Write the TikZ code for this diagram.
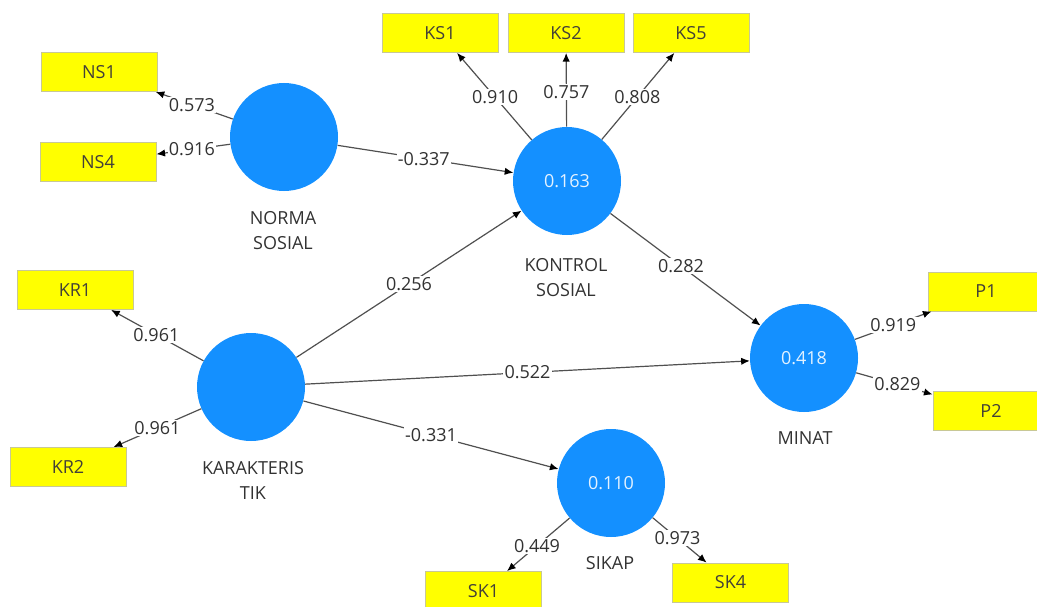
\documentclass[tikz,border=0pt]{standalone}
\usepackage{fontspec}
\setmainfont{Open Sans}
\usetikzlibrary{arrows.meta}
\definecolor{latent}{RGB}{20,144,255}
\definecolor{indyel}{RGB}{255,255,0}
\definecolor{indborder}{RGB}{200,200,150}
\definecolor{txt}{RGB}{50,50,50}
\definecolor{edge}{RGB}{80,80,80}
\begin{document}
\begin{tikzpicture}[x=0.75pt,y=-0.75pt,
  lv/.style={circle,fill=latent,draw=none,minimum size=81pt,inner sep=0pt,
    text=white!88!latent,font=\fontsize{13.5}{16}\selectfont},
  ind/.style={rectangle,fill=indyel,draw=indborder,line width=0.6pt,minimum width=87pt,minimum height=29.25pt,
    inner sep=0pt,text=black!85!yellow,font=\fontsize{13.5}{16}\selectfont},
  lvname/.style={align=center,text=txt,font=\fontsize{13.5}{18.75}\selectfont},
  conn/.style={draw=edge,line width=0.9pt,-{Latex[length=6.5pt,width=5.5pt,color=black]}},
  w/.style={fill=white,inner sep=1pt,text=txt,font=\fontsize{13.5}{16}\selectfont}]
\useasboundingbox (0,0) rectangle (1037,606);
\clip (0,0) rectangle (1037,606);
% latent variables
\node[lv] (ns) at (284,137) {};
\node[lv] (ks) at (567,181) {0.163};
\node[lv] (kr) at (251,387) {};
\node[lv] (sk) at (611,483) {0.110};
\node[lv] (mi) at (804,358) {0.418};
% names
\node[lvname] (nsl) at (283,231) {NORMA\\SOSIAL};
\node[lvname] (ksl) at (566,278) {KONTROL\\SOSIAL};
\node[lvname] (krl) at (253,480) {KARAKTERIS\\TIK};
\node[lvname] (skl) at (610,563) {SIKAP};
\node[lvname] (mil) at (805,438) {MINAT};
% indicators
\node[ind] (ns1) at (99,72) {NS1};
\node[ind] (ns4) at (98,162) {NS4};
\node[ind] (ks1) at (440,33) {KS1};
\node[ind] (ks2) at (566,33) {KS2};
\node[ind] (ks5) at (691,33) {KS5};
\node[ind] (kr1) at (75,290) {KR1};
\node[ind] (kr2) at (68,467) {KR2};
\node[ind] (sk1) at (483.5,591) {SK1};
\node[ind] (sk4) at (730.5,582.5) {SK4};
\node[ind] (p1) at (986,291.5) {P1};
\node[ind] (p2) at (991,411) {P2};
% outer loadings
\draw[conn] (ns) -- node[w,pos=0.53] {0.573} (ns1);
\draw[conn] (ns) -- node[w,pos=0.52] {0.916} (ns4);
\draw[conn] (ks) -- node[w,pos=0.49] {0.910} (ks1);
\draw[conn] (ks) -- node[w,pos=0.47] {0.757} (ks2);
\draw[conn] (ks) -- node[w,pos=0.49] {0.808} (ks5);
\draw[conn] (kr) -- node[w,pos=0.51] {0.961} (kr1);
\draw[conn] (kr) -- node[w,pos=0.5] {0.961} (kr2);
\draw[conn] (sk) -- node[w,pos=0.52] {0.449} (sk1);
\draw[conn] (sk) -- node[w,pos=0.46] {0.973} (sk4);
\draw[conn] (mi) -- node[w,pos=0.5] {0.919} (p1);
\draw[conn] (mi) -- node[w,pos=0.54] {0.829} (p2);
% path coefficients
\draw[conn] (ns) -- node[w,pos=0.49] {-0.337} (ks);
\draw[conn] (kr) -- node[w,pos=0.5] {0.256} (ks);
\draw[conn] (ks) -- node[w,pos=0.47] {0.282} (mi);
\draw[conn] (kr) -- node[w,pos=0.5] {0.522} (mi);
\draw[conn] (kr) -- node[w,pos=0.5] {-0.331} (sk);
\end{tikzpicture}
\end{document}
